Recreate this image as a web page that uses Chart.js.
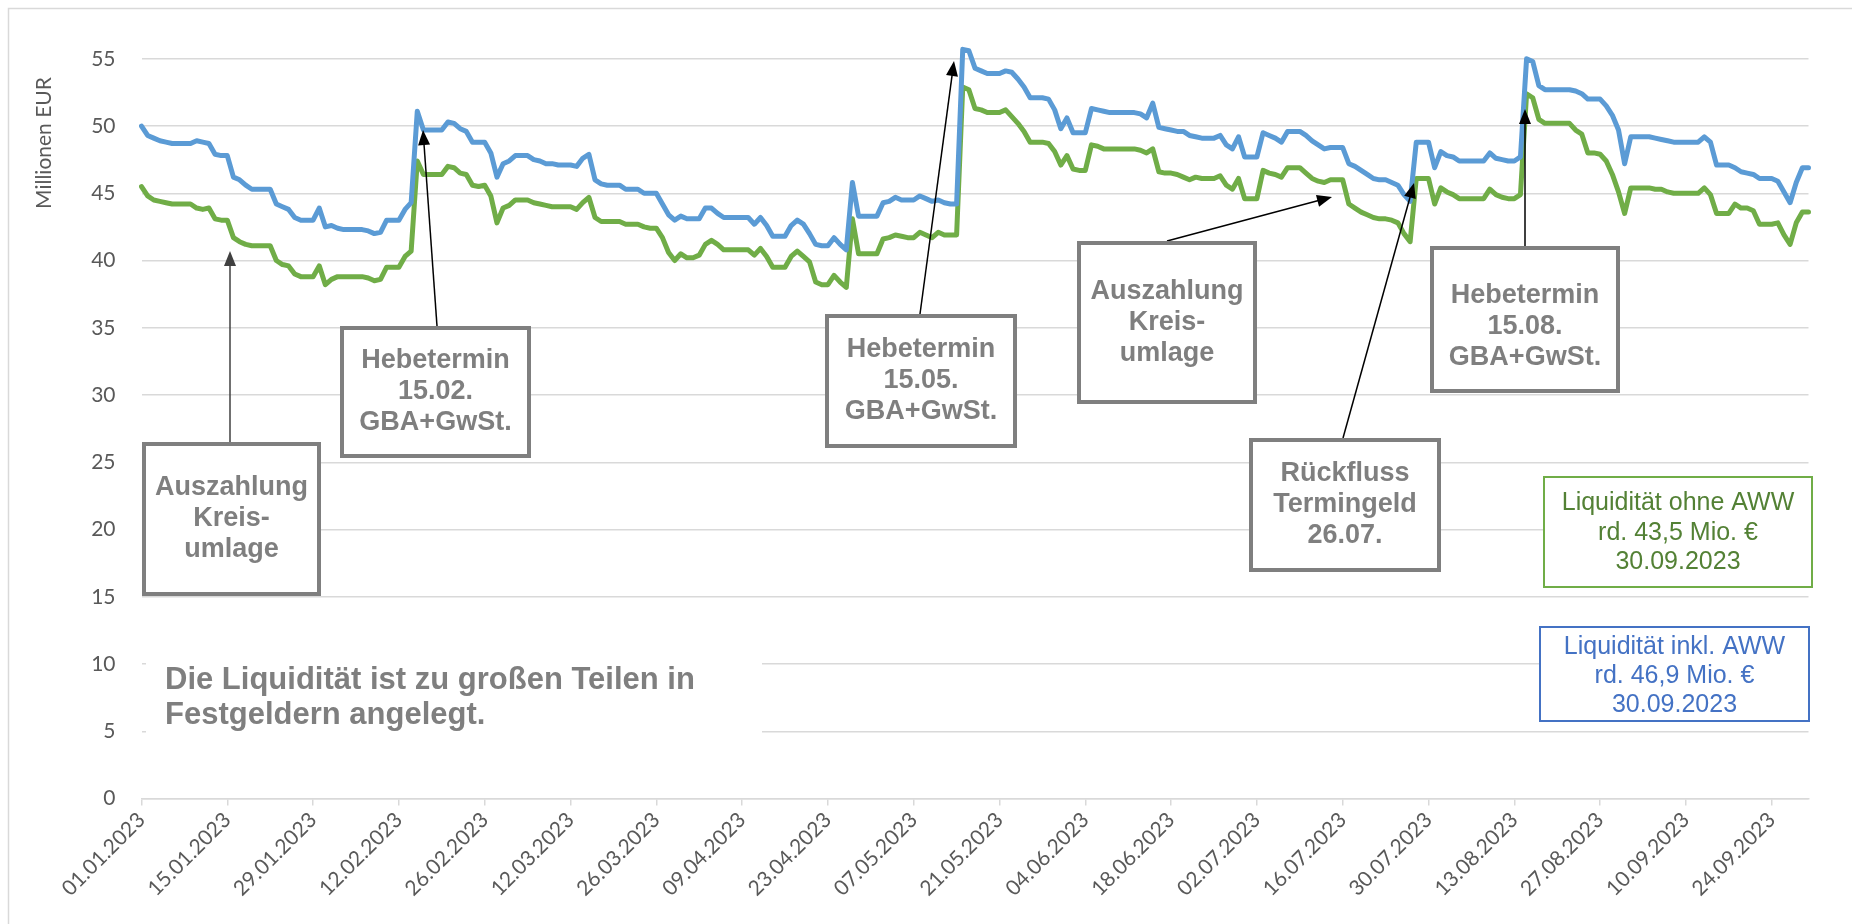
<!DOCTYPE html>
<html><head><meta charset="utf-8">
<script src="https://cdn.jsdelivr.net/npm/chart.js@4.4.0/dist/chart.umd.min.js"></script>
<style>html,body{margin:0;padding:0;background:#fff;overflow:hidden}#wrap{position:relative;width:1852px;height:924px}</style>
</head><body><div id="wrap"><canvas id="c"></canvas></div>
<script>
// ---- data (Millionen EUR, daily 01.01.2023 - 30.09.2023) ----
const tickLabels = ['01.01.2023','15.01.2023','29.01.2023','12.02.2023','26.02.2023','12.03.2023','26.03.2023','09.04.2023','23.04.2023','07.05.2023','21.05.2023','04.06.2023','18.06.2023','02.07.2023','16.07.2023','30.07.2023','13.08.2023','27.08.2023','10.09.2023','24.09.2023'];
const yTicks = [0,5,10,15,20,25,30,35,40,45,50,55];

const inklAWW = [
50.0,49.3,49.1,48.9,48.8,48.7,48.7,48.7,48.7,48.9,48.8,48.7,47.9,47.8,47.8,46.2,46.0,45.6,45.3,45.3,
45.3,45.3,44.2,44.0,43.8,43.2,43.0,43.0,43.0,43.9,42.5,42.6,42.4,42.3,42.3,42.3,42.3,42.2,42.0,42.1,
43.0,43.0,43.0,43.8,44.3,51.1,49.7,49.7,49.7,49.7,50.3,50.2,49.8,49.6,48.8,48.8,48.8,48.0,46.2,47.2,
47.4,47.8,47.8,47.8,47.5,47.4,47.2,47.2,47.1,47.1,47.1,47.0,47.6,47.9,46.0,45.7,45.6,45.6,45.6,45.3,
45.3,45.3,45.0,45.0,45.0,44.2,43.4,43.0,43.3,43.1,43.1,43.1,43.9,43.9,43.5,43.2,43.2,43.2,43.2,43.2,
42.7,43.2,42.6,41.8,41.8,41.8,42.6,43.0,42.7,42.0,41.2,41.1,41.1,41.7,41.2,40.8,45.8,43.3,43.3,43.3,
43.3,44.3,44.4,44.7,44.5,44.5,44.5,44.8,44.6,44.4,44.5,44.3,44.2,44.2,55.7,55.6,54.3,54.1,53.9,53.9,
53.9,54.1,54.0,53.5,52.9,52.1,52.1,52.1,52.0,51.2,49.8,50.6,49.5,49.5,49.5,51.3,51.2,51.1,51.0,51.0,
51.0,51.0,51.0,50.9,50.6,51.7,49.9,49.8,49.7,49.6,49.6,49.3,49.2,49.1,49.1,49.1,49.3,48.6,48.3,49.2,
47.7,47.7,47.7,49.5,49.3,49.1,48.8,49.6,49.6,49.6,49.3,48.9,48.6,48.3,48.4,48.4,48.4,47.2,47.0,46.7,
46.4,46.1,46.0,46.0,45.8,45.6,44.9,44.4,48.8,48.8,48.8,46.9,48.1,47.8,47.7,47.4,47.4,47.4,47.4,47.4,
48.0,47.6,47.5,47.4,47.4,47.7,55.0,54.8,53.0,52.7,52.7,52.7,52.7,52.7,52.6,52.4,52.0,52.0,52.0,51.5,
50.8,49.7,47.2,49.2,49.2,49.2,49.2,49.1,49.0,48.9,48.8,48.8,48.8,48.8,48.8,49.2,48.8,47.1,47.1,47.1,
46.9,46.6,46.5,46.4,46.1,46.1,46.1,45.9,45.1,44.3,45.8,46.9,46.9];

const ohneAWW = [
45.5,44.8,44.5,44.4,44.3,44.2,44.2,44.2,44.2,43.9,43.8,43.9,43.1,43.0,43.0,41.7,41.4,41.2,41.1,41.1,
41.1,41.1,40.0,39.7,39.6,39.0,38.8,38.8,38.8,39.6,38.2,38.6,38.8,38.8,38.8,38.8,38.8,38.7,38.5,38.6,
39.5,39.5,39.5,40.3,40.7,47.4,46.4,46.4,46.4,46.4,47.0,46.9,46.5,46.4,45.6,45.5,45.6,44.8,42.8,43.9,
44.1,44.5,44.5,44.5,44.3,44.2,44.1,44.0,44.0,44.0,44.0,43.8,44.3,44.7,43.2,42.9,42.9,42.9,42.9,42.7,
42.7,42.7,42.5,42.4,42.4,41.7,40.6,40.0,40.5,40.2,40.2,40.4,41.2,41.5,41.2,40.8,40.8,40.8,40.8,40.8,
40.4,40.9,40.3,39.5,39.5,39.5,40.3,40.7,40.3,39.9,38.4,38.2,38.2,38.9,38.4,38.0,43.1,40.5,40.5,40.5,
40.5,41.6,41.7,41.9,41.8,41.7,41.7,42.1,41.9,41.7,42.1,41.9,41.9,41.9,52.9,52.7,51.3,51.2,51.0,51.0,
51.0,51.2,50.7,50.2,49.6,48.8,48.8,48.8,48.7,48.1,47.1,47.8,46.8,46.7,46.7,48.6,48.5,48.3,48.3,48.3,
48.3,48.3,48.3,48.2,48.0,48.3,46.6,46.5,46.5,46.4,46.2,46.0,46.2,46.1,46.1,46.1,46.3,45.6,45.3,46.1,
44.6,44.6,44.6,46.7,46.5,46.4,46.2,46.9,46.9,46.9,46.5,46.1,45.9,45.8,46.0,46.0,46.0,44.2,43.9,43.6,
43.4,43.2,43.1,43.1,43.0,42.8,42.0,41.4,46.1,46.1,46.1,44.2,45.4,45.1,44.9,44.6,44.6,44.6,44.6,44.6,
45.3,44.9,44.7,44.6,44.6,44.9,52.4,52.1,50.5,50.2,50.2,50.2,50.2,50.2,49.7,49.4,48.0,48.0,47.9,47.4,
46.4,45.1,43.5,45.4,45.4,45.4,45.4,45.3,45.3,45.1,45.0,45.0,45.0,45.0,45.0,45.4,44.9,43.5,43.5,43.5,
44.2,43.9,43.9,43.7,42.7,42.7,42.7,42.8,41.9,41.2,42.8,43.6,43.6];

// categories: one per day
const categories = [];
for (let i = 0; i < inklAWW.length; i++) {
  const d = new Date(Date.UTC(2023, 0, 1 + i));
  const p = n => String(n).padStart(2, '0');
  categories.push(p(d.getUTCDate()) + '.' + p(d.getUTCMonth() + 1) + '.' + d.getUTCFullYear());
}

// ---- annotations ----
const GRAY = '#7f7f7f';
const callouts = [
  {box:[142,442,179,154], cy:519, lines:['Auszahlung','Kreis-','umlage'], from:[230,442], to:[230,251], arrow:'#404040'},
  {box:[340,326,191,132], cy:392, lines:['Hebetermin','15.02.','GBA+GwSt.'], from:[437,326], to:[423,130], arrow:'#000'},
  {box:[825,314,192,134], cy:381, lines:['Hebetermin','15.05.','GBA+GwSt.'], from:[920,314], to:[954,61], arrow:'#000'},
  {box:[1077,241,180,163], cy:323, lines:['Auszahlung','Kreis-','umlage'], from:[1167,241], to:[1332,197], arrow:'#000'},
  {box:[1249,438,192,134], cy:505, lines:['Rückfluss','Termingeld','26.07.'], from:[1343,438], to:[1414,183], arrow:'#000'},
  {box:[1430,246,190,147], cy:327, lines:['Hebetermin','15.08.','GBA+GwSt.'], from:[1525,246], to:[1525,109], arrow:'#000'}
];
const infoBoxes = [
  {box:[1543,476,270,112], lines:['Liquidität ohne AWW','rd. 43,5 Mio. €','30.09.2023'], ys:[503,533,562], border:'#70ad47', text:'#538135'},
  {box:[1539,626,271,96], lines:['Liquidität inkl. AWW','rd. 46,9 Mio. €','30.09.2023'], ys:[647,676,705], border:'#4472c4', text:'#4472c4'}
];

function arrow(ctx, x1, y1, x2, y2, color) {
  const a = Math.atan2(y2 - y1, x2 - x1), L = 15, W = 6;
  ctx.save();
  ctx.strokeStyle = color; ctx.fillStyle = color; ctx.lineWidth = 1.5;
  ctx.beginPath(); ctx.moveTo(x1, y1);
  ctx.lineTo(x2 - Math.cos(a) * L * 0.8, y2 - Math.sin(a) * L * 0.8); ctx.stroke();
  ctx.beginPath(); ctx.moveTo(x2, y2);
  ctx.lineTo(x2 - Math.cos(a) * L - Math.sin(a) * W, y2 - Math.sin(a) * L + Math.cos(a) * W);
  ctx.lineTo(x2 - Math.cos(a) * L + Math.sin(a) * W, y2 - Math.sin(a) * L - Math.cos(a) * W);
  ctx.closePath(); ctx.fill();
  ctx.restore();
}

const annotationPlugin = {
  id: 'annotations',
  beforeDraw(chart) {
    const ctx = chart.ctx;
    ctx.save();
    ctx.fillStyle = '#fff'; ctx.fillRect(0, 0, chart.width, chart.height);
    ctx.strokeStyle = '#d9d9d9'; ctx.lineWidth = 1.5;
    ctx.strokeRect(8.5, 8.5, chart.width + 20, chart.height + 20);
    // y axis title
    ctx.translate(44, 143); ctx.rotate(-Math.PI / 2);
    ctx.fillStyle = '#595959'; ctx.font = '21px Lato';
    ctx.textAlign = 'center'; ctx.textBaseline = 'middle';
    ctx.fillText('Millionen EUR', 0, 0);
    ctx.restore();
  },
  afterDraw(chart) {
    const ctx = chart.ctx;
    ctx.save();
    // note text with white background
    ctx.fillStyle = '#fff'; ctx.fillRect(146, 645, 616, 104);
    ctx.fillStyle = GRAY; ctx.font = 'bold 31px "Liberation Sans", Arial, sans-serif';
    ctx.textAlign = 'left'; ctx.textBaseline = 'middle';
    ctx.fillText('Die Liquidität ist zu großen Teilen in', 165, 680);
    ctx.fillText('Festgeldern angelegt.', 165, 715);
    // callouts
    callouts.forEach(c => {
      arrow(ctx, c.from[0], c.from[1], c.to[0], c.to[1], c.arrow);
      const [x, y, w, h] = c.box;
      ctx.fillStyle = '#fff'; ctx.fillRect(x, y, w, h);
      ctx.strokeStyle = GRAY; ctx.lineWidth = 4; ctx.strokeRect(x + 2, y + 2, w - 4, h - 4);
      ctx.fillStyle = GRAY; ctx.font = 'bold 27px "Liberation Sans", Arial, sans-serif';
      ctx.textAlign = 'center'; ctx.textBaseline = 'middle';
      c.lines.forEach((t, i) => ctx.fillText(t, x + w / 2, c.cy + (i - 1) * 31));
    });
    infoBoxes.forEach(b => {
      const [x, y, w, h] = b.box;
      ctx.fillStyle = '#fff'; ctx.fillRect(x, y, w, h);
      ctx.strokeStyle = b.border; ctx.lineWidth = 2; ctx.strokeRect(x + 1, y + 1, w - 2, h - 2);
      ctx.fillStyle = b.text; ctx.font = '25px "Liberation Sans", Arial, sans-serif';
      ctx.textAlign = 'center'; ctx.textBaseline = 'middle';
      b.lines.forEach((t, i) => ctx.fillText(t, x + w / 2, b.ys[i]));
    });
    ctx.restore();
  }
};

new Chart(document.getElementById('c'), {
  type: 'line',
  data: {
    labels: categories,
    datasets: [
      {label: 'Liquidität inkl. AWW', data: inklAWW, borderColor: '#5b9bd5', borderWidth: 5, pointRadius: 0, tension: 0, fill: false, borderJoinStyle: 'round', borderCapStyle: 'round'},
      {label: 'Liquidität ohne AWW', data: ohneAWW, borderColor: '#70ad47', borderWidth: 5, pointRadius: 0, tension: 0, fill: false, borderJoinStyle: 'round', borderCapStyle: 'round'}
    ]
  },
  options: {
    responsive: true, maintainAspectRatio: false, animation: false,
    layout: {padding: {top: 35.75, right: 43.5, bottom: 0, left: 0}},
    plugins: {legend: {display: false}, tooltip: {enabled: false}, title: {display: false}},
    scales: {
      x: {
        type: 'category',
        grid: {drawOnChartArea: false, drawTicks: true, tickLength: 7, lineWidth: 1.5,
               color: c => (c.index % 14 === 0 ? '#d9d9d9' : 'rgba(0,0,0,0)')},
        border: {display: true, color: '#d9d9d9', width: 1.5},
        ticks: {autoSkip: false, maxRotation: 45, minRotation: 45, padding: 2, color: '#595959',
                font: {family: 'Lato', size: 21},
                callback: (v, i) => (i % 14 === 0 ? tickLabels[i / 14] : '')},
        afterFit: s => { s.height = 125.5; }
      },
      y: {
        min: 0, max: 56.5,
        grid: {color: '#d9d9d9', lineWidth: 1.5, drawTicks: false},
        border: {display: false},
        ticks: {stepSize: 5, includeBounds: false, padding: 26, color: '#595959',
                font: {family: 'Lato', size: 21},
                callback: v => (yTicks.includes(v) ? String(v) : null)},
        afterFit: s => { s.width = 141.5; }
      }
    }
  },
  plugins: [annotationPlugin]
});
</script>
</body></html>
